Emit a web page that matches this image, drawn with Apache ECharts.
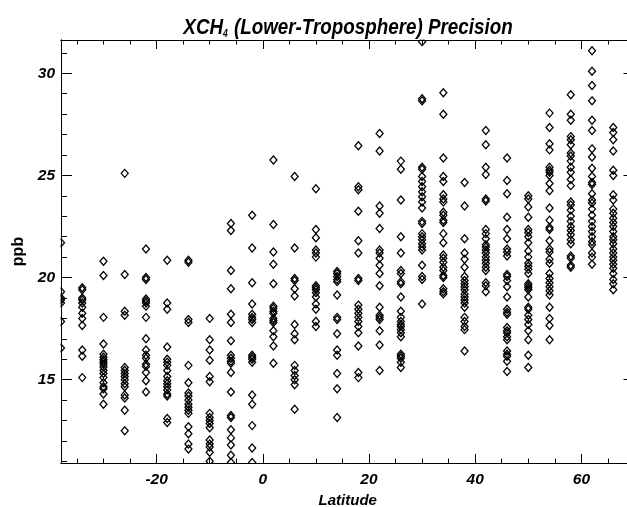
<!DOCTYPE html>
<html>
<head>
<meta charset="utf-8">
<script src="https://cdn.jsdelivr.net/npm/echarts@6/dist/echarts.min.js"></script>
<style>
html,body{margin:0;padding:0;background:#fff;}
#chart{width:627px;height:507px;}
</style>
</head>
<body>
<div id="chart"></div>
<script>
// Latitude columns and ppb values
const latitudes = [-38,-34,-30,-26,-22,-18,-14,-10,-6,-2,2,6,10,14,18,22,26,30,34,38,42,46,50,54,58,62,66];

const col_m38 = [21.7, 19.3, 19.0, 18.9, 18.75, 17.85, 16.55];
const col_m34 = [19.5, 19.4, 19.0, 18.9, 18.75, 18.55, 18.25, 18.0, 17.65, 16.45, 16.15, 15.1];
const col_m30 = [20.8, 20.1, 18.05, 16.75, 16.25, 16.1, 15.98, 15.87, 15.75, 15.62, 15.46, 15.3, 15.1, 14.85, 14.65, 14.55, 14.3, 13.8];
const col_m26 = [25.1, 20.15, 18.35, 18.15, 15.6, 15.45, 15.3, 15.15, 15.0, 14.8, 14.65, 14.25, 14.1, 13.5, 12.5];
const col_m22 = [21.4, 20.0, 19.9, 18.95, 18.85, 18.75, 18.6, 18.05, 17.0, 16.45, 16.2, 16.05, 15.75, 15.65, 15.35, 14.95, 14.4];
const col_m18 = [20.85, 18.75, 18.45, 16.6, 16.0, 15.85, 15.7, 15.45, 15.15, 14.95, 14.8, 14.65, 14.5, 14.3, 14.2, 13.1, 12.9];
const col_m14 = [20.85, 20.75, 17.95, 17.8, 15.7, 14.85, 14.35, 14.2, 14.0, 13.8, 13.65, 13.5, 13.35, 12.7, 12.35, 11.85, 11.6];
const col_m10 = [18.0, 16.95, 16.45, 15.95, 15.15, 14.9, 13.35, 13.15, 13.0, 12.85, 12.65, 12.05, 11.85, 11.7, 11.45, 11.0];
const col_m6  = [22.65, 22.3, 20.35, 19.45, 18.2, 17.8, 16.9, 16.2, 16.05, 15.9, 15.8, 15.35, 14.4, 13.25, 13.15, 12.55, 12.15, 11.8, 11.3, 10.95];
const col_m2  = [23.05, 21.45, 19.75, 18.7, 18.2, 18.05, 17.95, 17.8, 16.2, 16.1, 16.0, 15.85, 14.25, 13.8, 12.75, 11.65, 10.95];
const col_p2  = [25.75, 22.6, 21.25, 20.65, 19.7, 18.6, 18.5, 18.35, 18.25, 18.0, 17.9, 17.8, 17.4, 17.1, 16.65, 15.8];
const col_p6  = [24.95, 21.45, 19.95, 19.85, 19.45, 19.1, 17.7, 17.25, 16.95, 15.7, 15.45, 15.2, 15.0, 14.75, 13.55];
const col_p10 = [24.35, 22.35, 21.95, 21.35, 21.2, 21.0, 19.6, 19.5, 19.4, 19.25, 19.05, 18.7, 18.45, 17.85, 17.6];
const col_p14 = [20.3, 20.2, 20.05, 19.9, 19.8, 19.15, 18.05, 17.95, 17.25, 16.45, 16.2, 15.3, 14.55, 13.15];
const col_p18 = [26.45, 24.45, 24.3, 23.25, 21.8, 21.2, 19.95, 19.85, 18.65, 18.45, 18.25, 18.05, 17.85, 17.6, 17.3, 16.65, 15.35, 15.1];
const col_p22 = [27.05, 26.2, 23.5, 23.15, 22.4, 21.35, 21.2, 20.95, 20.6, 20.2, 19.6, 18.55, 18.15, 18.05, 17.95, 17.4, 16.7, 15.45];
const col_p26 = [25.7, 25.3, 23.8, 22.0, 21.2, 20.35, 20.2, 19.8, 19.7, 19.05, 18.35, 18.05, 17.85, 17.7, 17.6, 17.45, 17.3, 17.1, 16.25, 16.15, 16.05, 15.85, 15.6];
const col_p30 = [31.55, 28.75, 28.65, 25.4, 25.3, 24.95, 24.7, 24.45, 24.2, 23.95, 23.7, 23.4, 22.75, 22.65, 22.15, 22.0, 21.85, 21.65, 21.5, 21.35, 20.6, 20.05, 19.9, 18.7];
const col_p34 = [29.05, 28.0, 25.85, 24.95, 24.7, 24.05, 23.85, 23.7, 23.2, 23.05, 22.8, 22.7, 22.15, 21.7, 21.1, 20.95, 20.75, 20.5, 20.35, 20.1, 20.0, 19.45, 19.3, 19.2];
const col_p38 = [24.65, 23.5, 21.9, 21.2, 20.9, 20.5, 20.05, 19.85, 19.7, 19.55, 19.4, 19.2, 19.05, 18.9, 18.75, 18.55, 18.05, 17.85, 17.6, 17.45, 16.4];
const col_p42 = [27.2, 26.5, 25.4, 25.05, 23.85, 23.75, 22.35, 22.15, 21.9, 21.6, 21.5, 21.35, 21.2, 21.0, 20.85, 20.7, 20.5, 20.35, 19.75, 19.6, 19.3];
const col_p46 = [25.85, 24.75, 24.1, 22.95, 22.35, 21.9, 21.4, 21.25, 21.05, 20.15, 20.05, 19.85, 19.55, 19.05, 18.45, 18.3, 18.2, 17.55, 17.4, 17.3, 17.1, 16.95, 16.4, 16.25, 16.15, 15.9, 15.4];
const col_p50 = [24.0, 23.85, 23.45, 22.95, 22.35, 22.2, 22.0, 21.7, 21.3, 21.0, 20.7, 20.55, 20.4, 20.2, 19.7, 19.6, 19.5, 19.4, 19.05, 18.55, 18.45, 18.15, 17.95, 17.7, 17.4, 16.95, 16.2, 15.6];
const col_p54 = [28.05, 27.35, 26.55, 26.25, 25.4, 25.25, 25.15, 25.0, 24.6, 24.25, 23.4, 22.8, 22.45, 22.35, 21.8, 21.4, 21.25, 20.9, 20.7, 20.2, 19.95, 19.75, 19.55, 19.35, 19.15, 18.55, 18.0, 17.65, 16.95];
const col_p58 = [28.95, 28.0, 27.7, 26.9, 26.75, 26.5, 26.1, 25.95, 25.7, 25.4, 25.15, 24.8, 24.5, 23.7, 23.55, 23.3, 23.0, 22.75, 22.5, 22.3, 22.1, 21.85, 21.65, 21.05, 20.95, 20.6, 20.5];
const col_p62 = [31.1, 30.1, 29.4, 28.65, 27.7, 27.2, 26.3, 25.9, 25.35, 24.95, 24.65, 24.55, 24.1, 23.8, 23.65, 23.35, 23.05, 22.75, 22.5, 22.25, 22.0, 21.75, 21.6, 21.2, 21.0, 20.65];
const col_p66 = [27.35, 27.1, 26.75, 26.2, 25.25, 25.0, 24.05, 23.8, 23.35, 23.15, 22.9, 22.7, 22.5, 22.25, 22.0, 21.85, 21.65, 21.4, 21.2, 21.0, 20.85, 20.65, 20.45, 20.2, 19.9, 19.7, 19.4];

const columns = [col_m38,col_m34,col_m30,col_m26,col_m22,col_m18,col_m14,col_m10,col_m6,col_m2,
  col_p2,col_p6,col_p10,col_p14,col_p18,col_p22,col_p26,col_p30,col_p34,col_p38,col_p42,col_p46,
  col_p50,col_p54,col_p58,col_p62,col_p66];

const xTickLabels = [-20, 0, 20, 40, 60];
const xMinorTicks = [-35,-30,-25,-15,-10,-5,5,10,15,25,30,35,45,50,55,65];
const yTickLabels = [15, 20, 25, 30];
const yMinorTicks = [11,12,13,14,16,17,18,19,21,22,23,24,26,27,28,29,31];

const points = [];
latitudes.forEach((lat, i) => columns[i].forEach(v => points.push([lat, v])));

const FONT = '"Liberation Sans Narrow", "Liberation Sans", Arial, sans-serif';
const XMIN = -38, XMAX = 70, YMIN = 10.92, YMAX = 31.63;

const chart = echarts.init(document.getElementById('chart'), null, {renderer: 'canvas'});

function xAx(pos, ticks, len, labels, extra) {
  return Object.assign({
    type: 'value', position: pos, min: XMIN, max: XMAX, z: 10,
    splitLine: {show: false},
    axisLine: {show: true, onZero: false, lineStyle: {color: '#000', width: 1}},
    axisTick: {show: true, inside: true, length: len, customValues: ticks, lineStyle: {color: '#000', width: 1}},
    axisLabel: labels ? {show: true, customValues: labels, color: '#000', fontFamily: FONT, fontSize: 15.5,
      fontWeight: 'bold', fontStyle: 'italic', margin: 9} : {show: false}
  }, extra || {});
}
function yAx(pos, ticks, len, labels, extra) {
  return Object.assign({
    type: 'value', position: pos, min: YMIN, max: YMAX, z: 10,
    splitLine: {show: false},
    axisLine: {show: true, onZero: false, lineStyle: {color: '#000', width: 1}},
    axisTick: {show: true, inside: true, length: len, customValues: ticks, lineStyle: {color: '#000', width: 1}},
    axisLabel: labels ? {show: true, customValues: labels, color: '#000', fontFamily: FONT, fontSize: 15.5,
      fontWeight: 'bold', fontStyle: 'italic', margin: 6} : {show: false}
  }, extra || {});
}

const option = {
  animation: false,
  backgroundColor: '#fff',
  grid: {left: 61, top: 40, width: 573.5, height: 423, containLabel: false, outerBoundsMode: 'none'},
  xAxis: [
    xAx('bottom', xTickLabels, 9, xTickLabels, {
      name: 'Latitude', nameLocation: 'middle', nameGap: 23,
      nameTextStyle: {color: '#000', fontFamily: FONT, fontSize: 15, fontWeight: 'bold', fontStyle: 'italic'}
    }),
    xAx('bottom', xMinorTicks, 4.5, null),
    xAx('top', xTickLabels, 9, null),
    xAx('top', xMinorTicks, 4.5, null)
  ],
  yAxis: [
    yAx('left', yTickLabels, 11, yTickLabels, {
      name: 'ppb', nameLocation: 'middle', nameGap: 34, nameRotate: 90,
      nameTextStyle: {color: '#000', fontFamily: FONT, fontSize: 16, fontWeight: 'bold'}
    }),
    yAx('left', yMinorTicks, 6, null),
    yAx('right', yTickLabels, 11, null),
    yAx('right', yMinorTicks, 6, null)
  ],
  graphic: [
    {type: 'rect', z: 5, silent: true, shape: {x: 0, y: 0, width: 60.5, height: 507}, style: {fill: '#fff'}},
    {type: 'rect', z: 5, silent: true, shape: {x: 0, y: 0, width: 627, height: 39.5}, style: {fill: '#fff'}},
    {type: 'rect', z: 5, silent: true, shape: {x: 0, y: 463.5, width: 627, height: 44}, style: {fill: '#fff'}},
    {
      type: 'text', z: 20, x: 348, y: 28, scaleX: 0.855,
      style: {
        text: '{a|XCH}{s|4}{a| (Lower-Troposphere) Precision}',
        align: 'center', verticalAlign: 'middle',
        rich: {
          a: {fontFamily: FONT, fontSize: 22, fontWeight: 'bold', fontStyle: 'italic', fill: '#000'},
          s: {fontFamily: FONT, fontSize: 10, fontWeight: 'bold', fontStyle: 'italic', fill: '#000', verticalAlign: 'bottom', padding: [0, 1, 0, 0]}
        }
      }
    }
  ],
  series: [{
    type: 'scatter',
    xAxisIndex: 0, yAxisIndex: 0,
    data: points,
    symbol: 'diamond',
    symbolSize: [7, 8],
    clip: false,
    itemStyle: {color: 'rgba(0,0,0,0)', borderColor: '#000', borderWidth: 1.3, opacity: 1},
    emphasis: {disabled: true}
  }]
};
chart.setOption(option);
</script>
</body>
</html>
